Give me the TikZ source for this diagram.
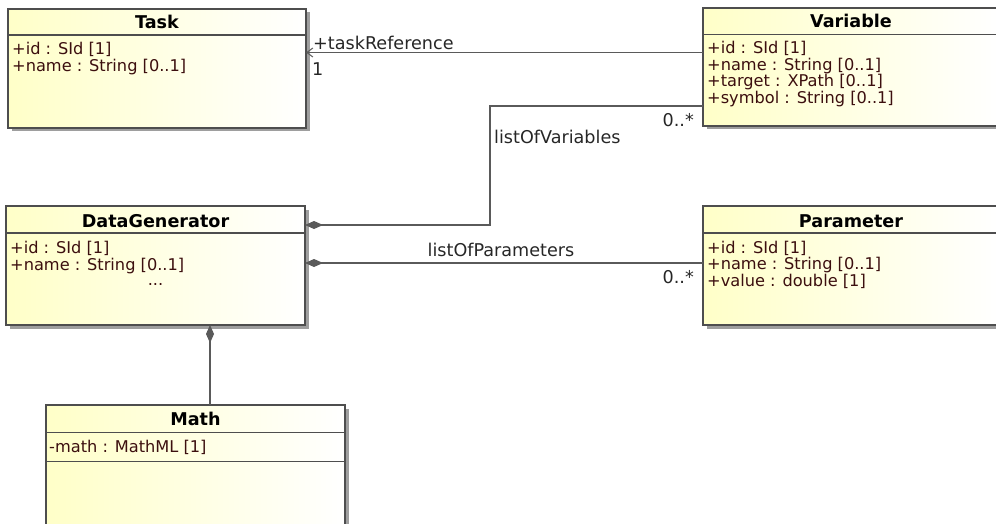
\documentclass[tikz,border=0pt]{standalone}
\usepackage{fontspec}
\setmainfont{DejaVu Sans}
\usetikzlibrary{arrows.meta,shadows}
\definecolor{umlfill}{RGB}{255,255,200}
\definecolor{umlline}{RGB}{78,78,78}
\definecolor{connline}{RGB}{90,90,90}
\definecolor{attrtext}{RGB}{60,15,15}
\begin{document}
\begin{tikzpicture}[x=1pt,y=-1pt,
  classbox/.style={draw=umlline, line width=1.3pt, left color=umlfill, right color=white,
    drop shadow={shadow xshift=3.5pt, shadow yshift=-3.5pt, fill=black!38, opacity=1},
    anchor=north west, inner sep=0pt, outer sep=0pt},
  sepline/.style={draw=umlline, line width=1.4pt},
  classtitle/.style={font=\fontsize{17.6}{20}\selectfont\bfseries, anchor=base, inner sep=0pt, text=black},
  attr/.style={font=\fontsize{16.2}{17}\selectfont, anchor=base west, inner sep=0pt, text=attrtext},
  conn/.style={draw=connline, line width=1.3pt},
  clabel/.style={font=\fontsize{17.6}{20}\selectfont, inner sep=0pt, text=black!85},
  opentip/.tip={Straight Barb[length=6pt,width=9pt,line width=1pt]},
  diam/.tip={Diamond[length=18pt,width=8pt,fill=connline]}
]
\useasboundingbox (0,0) rectangle (996,524);
\clip (0,0) rectangle (996,524);

% Task
\node[classbox, minimum width=298pt, minimum height=119pt] (task) at (8,9) {};
\draw[sepline] (task.west |- 0,35) -- (task.east |- 0,35);
\node[classtitle] (taskT) at (157,29) {Task};
\node[attr] (taskA1) at (12,55) {+id : SId [1]};
\node[attr] (taskA2) at (12,72) {+name : String [0..1]};

% Variable
\node[classbox, minimum width=296pt, minimum height=118pt] (var) at (703,8) {};
\draw[sepline] (var.west |- 0,34.5) -- (var.east |- 0,34.5);
\node[classtitle] (varT) at (851,28) {Variable};
\node[attr] (varA1) at (707,54) {+id : SId [1]};
\node[attr] (varA2) at (707,70.5) {+name : String [0..1]};
\node[attr] (varA3) at (707,87) {+target : XPath [0..1]};
\node[attr] (varA4) at (707,103.5) {+symbol : String [0..1]};

% DataGenerator
\node[classbox, minimum width=299pt, minimum height=119pt] (dg) at (6,206) {};
\draw[sepline] (dg.west |- 0,233) -- (dg.east |- 0,233);
\node[classtitle] (dgT) at (155.5,227) {DataGenerator};
\node[attr] (dgA1) at (10,253) {+id : SId [1]};
\node[attr] (dgA2) at (10,270) {+name : String [0..1]};
\node[attr, anchor=base] (dgA3) at (155.5,285) {...};

% Parameter
\node[classbox, minimum width=296pt, minimum height=119pt] (param) at (703,206) {};
\draw[sepline] (param.west |- 0,233) -- (param.east |- 0,233);
\node[classtitle] (paramT) at (851,227) {Parameter};
\node[attr] (paramA1) at (707,253) {+id : SId [1]};
\node[attr] (paramA2) at (707,269.5) {+name : String [0..1]};
\node[attr] (paramA3) at (707,286) {+value : double [1]};

% Math
\node[classbox, minimum width=299pt, minimum height=135pt] (math) at (46,405) {};
\draw[sepline] (math.west |- 0,432.5) -- (math.east |- 0,432.5);
\draw[sepline] (math.west |- 0,461.5) -- (math.east |- 0,461.5);
\node[classtitle] (mathT) at (195.5,425) {Math};
\node[attr] (mathA1) at (49,452) {-math : MathML [1]};

% Connectors
\draw[conn, {opentip}-] (task.east |- 0,52.5) -- (var.west |- 0,52.5);
\node[clabel, anchor=base west] (lTR) at (313,50) {+taskReference};
\node[clabel, anchor=base west] (lTR1) at (312,76) {1};

\coordinate (bendA) at (490,106);
\coordinate (bendB) at (490,225);
\draw[conn, -{diam}] (var.west |- 0,106) -- (bendA) -- (bendB) -- (dg.east |- bendB);
\node[clabel, anchor=base east] (lV0) at (694,127) {0..*};
\node[clabel, anchor=base west] (lV) at (494,143.5) {listOfVariables};

\draw[conn, {diam}-] (dg.east |- 0,263) -- (param.west |- 0,263);
\node[clabel, anchor=base] (lP) at (501,256) {listOfParameters};
\node[clabel, anchor=base east] (lP0) at (694,283) {0..*};

\draw[conn, {diam}-] (dg.south -| 210,0) -- (math.north -| 210,0);
\end{tikzpicture}
\end{document}
